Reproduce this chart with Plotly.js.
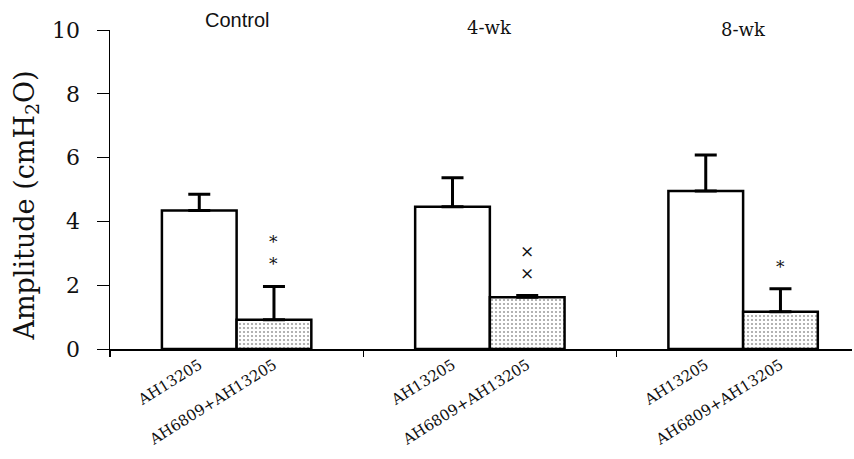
<!DOCTYPE html>
<html>
<head>
<meta charset="utf-8">
<script src="https://cdn.plot.ly/plotly-3.0.1.min.js"></script>
<style>
  html, body { margin: 0; padding: 0; background: #fff; }
  #chart { width: 854px; height: 459px; }
</style>
</head>
<body>
<div id="chart"></div>
<script>
// Amplitude of responses per group: agonist alone vs. antagonist + agonist
const groups = ['Control', '4-wk', '8-wk'];
const seriesNames = ['AH13205', 'AH6809+AH13205'];
const agonistMean = [4.34, 4.46, 4.95];
const agonistErr = [0.51, 0.91, 1.13];
const comboMean = [0.92, 1.62, 1.17];
const comboErr = [1.04, 0.06, 0.72];
const comboSig = ['*<br>*', '×<br>×', '*'];

const groupIdx = groups.map((_, i) => i);
const bargap = 0.41;
const half = (1 - bargap) / 4;   // offset of each bar centre from its group centre

const barLine = { color: '#000', width: 2.5 };
const errStyle = { type: 'data', symmetric: false, color: '#000', thickness: 3, width: 11 };

const traces = [
  {
    type: 'bar', name: seriesNames[0], x: groupIdx, y: agonistMean,
    marker: { color: '#ffffff', line: barLine },
    error_y: Object.assign({ array: agonistErr, arrayminus: agonistErr.map(() => 0) }, errStyle)
  },
  {
    type: 'bar', name: seriesNames[1], x: groupIdx, y: comboMean,
    marker: {
      color: '#ffffff', line: barLine,
      pattern: { shape: '.', fgcolor: '#a0a0a0', bgcolor: '#ffffff', size: 4, solidity: 0.22 }
    },
    error_y: Object.assign({ array: comboErr, arrayminus: comboErr.map(() => 0) }, errStyle)
  }
];

// one rotated label under every bar
const tickvals = [];
const ticktext = [];
groupIdx.forEach(g => {
  tickvals.push(g - half, g + half);
  ticktext.push(seriesNames[0], seriesNames[1]);
});

const annotations = [];
// group headings
const headY = [1.03, 1.008, 1.002];
groups.forEach((name, i) => {
  annotations.push({
    xref: 'x', yref: 'paper', x: i, y: headY[i], yanchor: 'middle',
    text: name, showarrow: false,
    font: i === 0
      ? { family: 'Liberation Sans, Arial, sans-serif', size: 20, color: '#111' }
      : { family: 'DejaVu Serif, serif', size: 18, color: '#111' }
  });
});
// significance marks above the antagonist bars
groupIdx.forEach(g => {
  annotations.push({
    xref: 'x', yref: 'y', x: g + half, y: comboMean[g] + comboErr[g],
    yanchor: 'bottom', yshift: 10, text: comboSig[g], showarrow: false,
    font: { family: 'DejaVu Serif, serif', size: 17, color: '#111' }
  });
});
// y-axis title
annotations.push({
  xref: 'paper', yref: 'paper', x: -0.113, y: 0.45, xanchor: 'center', yanchor: 'middle',
  textangle: -90, showarrow: false,
  text: 'Amplitude (cmH<sub>2</sub>O)',
  font: { family: 'DejaVu Serif, serif', size: 27, color: '#111' }
});

const layout = {
  width: 854, height: 459,
  margin: { l: 110, r: 2, t: 29.5, b: 109.5 },
  paper_bgcolor: '#fff', plot_bgcolor: '#fff',
  barmode: 'group', bargap: bargap, bargroupgap: 0,
  showlegend: false,
  xaxis: {
    range: [-0.5, 2.43], showgrid: false, zeroline: false,
    showline: true, linecolor: '#000', linewidth: 1.5,
    tickmode: 'array', tickvals: tickvals, ticktext: ticktext,
    ticks: '', tickangle: -32,
    tickfont: { family: 'DejaVu Serif, serif', size: 15, color: '#111' },
    minor: { tick0: 0.5, dtick: 1, ticks: 'outside', ticklen: 6, tickwidth: 1.2, tickcolor: '#000' }
  },
  yaxis: {
    range: [0, 10], dtick: 2, showgrid: false, zeroline: false,
    showline: true, linecolor: '#000', linewidth: 1.5,
    ticks: 'outside', ticklen: 12, tickwidth: 1, tickcolor: '#000',
    ticklabelstandoff: 12,
    tickfont: { family: 'DejaVu Serif, serif', size: 22, color: '#111' }
  },
  annotations: annotations
};

Plotly.newPlot('chart', traces, layout, { displayModeBar: false, staticPlot: true });
</script>
</body>
</html>
